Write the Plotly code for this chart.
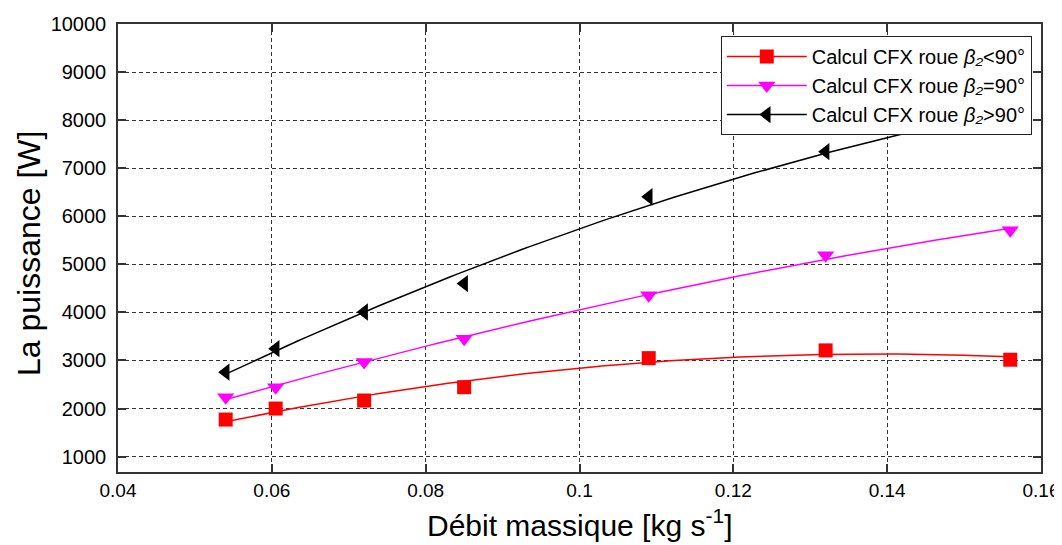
import numpy as np
import plotly.graph_objects as go

# ---- data ----
debit = [0.054, 0.0605, 0.072, 0.085, 0.109, 0.132, 0.156]
p_inf90 = [1771, 2000, 2167, 2445, 3049, 3210, 3016]
p_eq90 = [2236, 2445, 2966, 3453, 4356, 5190, 5711]
p_sup90 = [2757, 3245, 4008, 4600, 6406, 7344, 8150]

x_ticks = [0.04, 0.06, 0.08, 0.1, 0.12, 0.14, 0.16]
x_ticklabels = ["0.04", "0.06", "0.08", "0.1", "0.12", "0.14", "0.16"]
y_ticks = [1000, 2000, 3000, 4000, 5000, 6000, 7000, 8000, 9000, 10000]
y_ticklabels = [str(v) for v in y_ticks]

x_title = "Débit massique [kg s<sup>-1</sup>]"
y_title = "La puissance [W]"
names = [
    "Calcul CFX roue <i>β₂</i>&lt;90°",
    "Calcul CFX roue <i>β₂</i>=90°",
    "Calcul CFX roue <i>β₂</i>&gt;90°",
]
series = [p_inf90, p_eq90, p_sup90]
colors = ["#ff0000", "#ff00ff", "#000000"]
symbols = ["square", "triangle-down", "triangle-left"]
sizes = [14, 15, 15]

fig = go.Figure()
xs = np.array(debit)
xfit = np.linspace(xs.min(), xs.max(), 120)
for name, ys, col, sym, sz in zip(names, series, colors, symbols, sizes):
    # quadratic least-squares trend line of the plotted points
    coef = np.polyfit(xs, np.array(ys, dtype=float), 2)
    fig.add_trace(go.Scatter(x=xfit, y=np.polyval(coef, xfit), mode="lines",
                             line=dict(color=col, width=1.5), showlegend=False,
                             hoverinfo="skip"))
    fig.add_trace(go.Scatter(x=debit, y=ys, mode="markers",
                             marker=dict(symbol=sym, size=sz, color=col, line=dict(width=0)),
                             showlegend=False))
    fig.add_trace(go.Scatter(x=[None], y=[None], mode="lines+markers", name=name,
                             line=dict(color=col, width=1.5),
                             marker=dict(symbol=sym, size=sz, color=col, line=dict(width=0)),
                             legendgroup=name))

axis_common = dict(
    showline=True, linecolor="#333333", linewidth=1.5, mirror="ticks",
    ticks="inside", ticklen=8, tickwidth=1.5, tickcolor="#333333",
    showgrid=True, gridcolor="#333333", gridwidth=1, griddash="4px,3px",
    zeroline=False, automargin=False,
)

fig.update_xaxes(range=[0.04, 0.16], tickvals=x_ticks, ticktext=x_ticklabels,
                 tickfont=dict(family="Liberation Sans, Arial", size=19, color="black"),
                 **axis_common)
fig.update_yaxes(range=[680, 10000], tickvals=y_ticks, ticktext=y_ticklabels,
                 tickfont=dict(family="Liberation Sans, Arial", size=20, color="black"),
                 ticklabelstandoff=6,
                 **axis_common)

fig.add_annotation(text=y_title, xref="paper", yref="paper", x=0, y=0.5,
                   xanchor="center", yanchor="middle", xshift=-89, yshift=-6,
                   textangle=-90, showarrow=False,
                   font=dict(family="Liberation Sans, Arial", size=32, color="black"))
fig.add_annotation(text=x_title, xref="paper", yref="paper", x=0.5, y=0,
                   xanchor="center", yanchor="middle", yshift=-51,
                   showarrow=False,
                   font=dict(family="Liberation Sans, Arial", size=30, color="black"))

# page has an 8px body margin, so the figure is sized to fit inside the window
fig.update_layout(
    width=1054, height=537,
    margin=dict(l=110, r=21, t=16, b=73, autoexpand=False),
    paper_bgcolor="white", plot_bgcolor="white",
    font=dict(family="Liberation Sans, Arial", color="black"),
    legend=dict(x=0.990, y=0.973, xanchor="right", yanchor="top",
                bgcolor="white", bordercolor="#222222", borderwidth=1,
                font=dict(family="Liberation Sans, Arial", size=20, color="black"),
                itemwidth=80, tracegroupgap=0),
    showlegend=True,
)

fig.write_html("out.html")
